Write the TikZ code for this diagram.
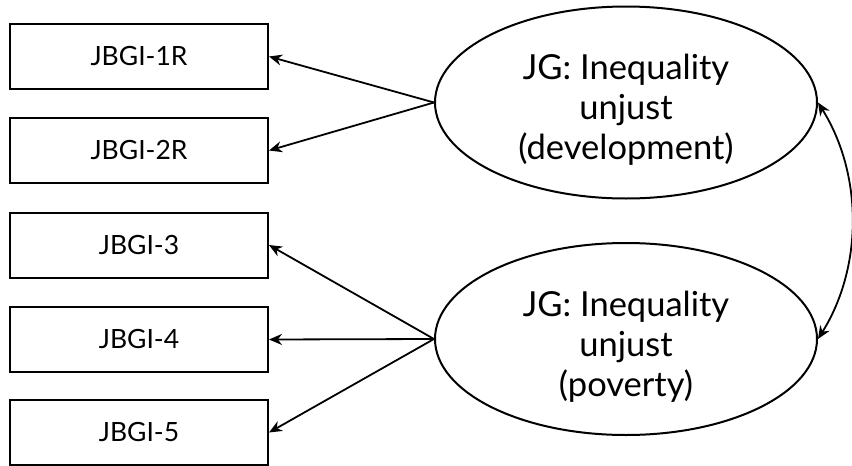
\documentclass[tikz,border=0pt]{standalone}
\usepackage{fontspec}
\setmainfont{Lato}
\usetikzlibrary{shapes.geometric,arrows.meta}
\begin{document}
\begin{tikzpicture}[x=1pt,y=-1pt,
  obs/.style={draw,line width=2pt,minimum width=258pt,minimum height=65pt,inner sep=0pt,font=\fontsize{26.5}{30}\selectfont},
  lat/.style={draw,ellipse,line width=2pt,minimum width=382pt,minimum height=192pt,inner sep=0pt},
  lattext/.style={align=center,inner sep=0pt,font=\fontsize{34.5}{40}\selectfont},
  arr/.style={line width=1.8pt,-{Stealth[length=13pt,width=11pt]}},
  darr/.style={line width=1.8pt,{Stealth[length=13pt,width=11pt]}-{Stealth[length=13pt,width=11pt]}}]
\useasboundingbox (0,0) rectangle (852,466);
\node[obs] (b1) at (139,56.5) {JBGI-1R};
\node[obs] (b2) at (139,150.5) {JBGI-2R};
\node[obs] (b3) at (139,245) {JBGI-3};
\node[obs] (b4) at (139,339.5) {JBGI-4};
\node[obs] (b5) at (139,432.5) {JBGI-5};
\node[lat] (e1) at (626,102.5) {};
\node[lat] (e2) at (626,339) {};
\node[lattext] (t1) at (626,110) {JG: Inequality\\unjust\\(development)};
\node[lattext] (t2) at (626,346.5) {JG: Inequality\\unjust\\(poverty)};
\draw[arr] (e1.west) -- (b1.east);
\draw[arr] (e1.west) -- (b2.east);
\draw[arr] (e2.west) -- (b3.east);
\draw[arr] (e2.west) -- (b4.east);
\draw[arr] (e2.west) -- (b5.east);
\draw[darr] (e1.east) .. controls +(45,72) and +(45,-72) .. (e2.east);
\end{tikzpicture}
\end{document}
